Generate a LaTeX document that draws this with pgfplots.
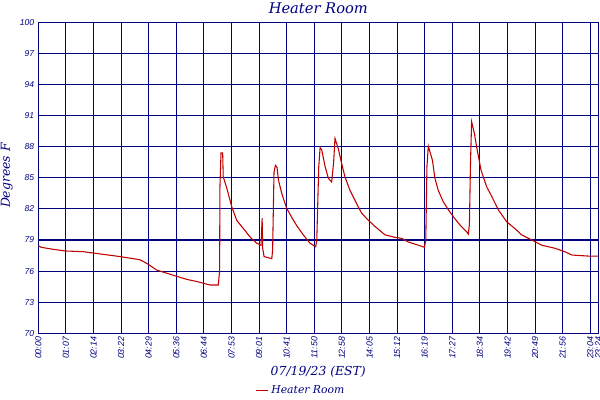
\documentclass[border=0pt]{standalone}
\usepackage{pgfplots}
\pgfplotsset{compat=1.18}
\usepackage{fontspec}
\setmainfont{DejaVu Serif}
\newfontfamily\tickfont{Liberation Sans}

\definecolor{gridnavy}{RGB}{0,0,128}
\definecolor{heatred}{RGB}{192,0,0}

\begin{document}
\begin{tikzpicture}
  \useasboundingbox (-28.725pt,-50.025pt) rectangle (421.275pt,249.975pt);
  \begin{axis}[
    scale only axis,
    width=420pt,
    height=233.25pt,
    xmin=0, xmax=20.29,
    ymin=70, ymax=100,
    xtick={0,1,2,3,4,5,6,7,8,9,10,11,12,13,14,15,16,17,18,19,20,20.29},
    xticklabels={{00:00},{01:07},{02:14},{03:22},{04:29},{05:36},{06:44},{07:53},{09:01},{10:41},{11:50},{12:58},{14:05},{15:12},{16:19},{17:27},{18:34},{19:42},{20:49},{21:56},{23:04},{23:24}},
    ytick={70,73,76,79,82,85,88,91,94,97,100},
    yticklabels={70,73,76,79,82,85,88,91,94,97,100},
    grid=major,
    major grid style={gridnavy, line width=0.85pt},
    axis line style={gridnavy, line width=0.85pt},
    major tick length=0pt,
    x tick label style={font=\tickfont\itshape\fontsize{6.6}{7.5}\selectfont, text=gridnavy, rotate=90, anchor=east, inner sep=2.5pt},
    y tick label style={font=\tickfont\itshape\fontsize{6.4}{7.5}\selectfont, text=gridnavy, anchor=east, inner sep=3pt},
    title={Heater Room},
    title style={font=\itshape\fontsize{11}{13}\selectfont, text=gridnavy, at={(0.5,1)}, anchor=base, yshift=0.75pt},
    xlabel={07/19/23 (EST)},
    xlabel style={font=\itshape\fontsize{9.3}{11}\selectfont, text=gridnavy, at={(axis description cs:0.5,0)}, anchor=base, yshift=-31.8pt},
    ylabel={Degrees F},
    ylabel style={font=\itshape\fontsize{9.3}{11}\selectfont, text=gridnavy, at={(axis description cs:-0.0506,0.507)}, anchor=base, rotate=0},
    legend style={draw=none, fill=none, inner sep=0pt, outer sep=0pt,
      at={(axis description cs:0.387,-0.184)}, anchor=west,
      font=\itshape\fontsize{8.1}{10}\selectfont, text=gridnavy},
    legend image code/.code={\draw[#1] (0pt,0pt) -- (9.5pt,0pt);},
  ]
    \addplot[heatred, line width=0.8pt] coordinates {
      (0.00,78.45) (0.10,78.3) (0.54,78.1) (1.00,77.94) (1.63,77.87) (2.12,77.7)
      (2.96,77.4) (3.44,77.2) (3.68,77.1) (3.93,76.75) (4.29,76.1) (4.89,75.6)
      (5.38,75.2) (5.74,75.0) (6.22,74.66) (6.52,74.66) (6.57,76.0) (6.58,84.0)
      (6.62,87.4) (6.68,87.4) (6.70,85.1) (6.83,84.0) (7.01,82.2) (7.19,80.9)
      (7.43,80.1) (7.67,79.3) (7.91,78.7) (8.07,78.5) (8.11,81.1) (8.13,78.2)
      (8.18,77.4) (8.46,77.2) (8.49,78.0) (8.54,85.5) (8.59,86.2) (8.65,86.0)
      (8.70,84.8) (8.82,83.5) (9.00,82.05) (9.18,81.2) (9.36,80.4) (9.60,79.5)
      (9.84,78.7) (10.05,78.35) (10.09,79.0) (10.16,86.0) (10.21,87.9) (10.27,87.7)
      (10.39,86.1) (10.51,84.95) (10.63,84.6) (10.70,86.5) (10.75,88.8) (10.87,87.8)
      (10.99,86.4) (11.11,85.1) (11.29,83.8) (11.47,82.85) (11.59,82.2) (11.72,81.57)
      (11.96,80.9) (12.20,80.3) (12.56,79.5) (12.92,79.26) (13.17,79.16) (13.41,78.8)
      (13.77,78.5) (13.99,78.3) (14.04,79.0) (14.08,86.0) (14.13,88.06) (14.28,86.7)
      (14.37,84.95) (14.49,83.8) (14.67,82.7) (14.86,81.9) (15.04,81.24) (15.28,80.44)
      (15.52,79.8) (15.58,79.57) (15.62,80.5) (15.66,86.5) (15.70,90.4) (15.80,89.3)
      (15.88,88.0) (16.04,85.75) (16.16,84.8) (16.25,84.1) (16.43,83.2) (16.67,81.9)
      (16.97,80.76) (17.27,80.1) (17.51,79.5) (17.88,79.0) (18.24,78.5) (18.72,78.2)
      (19.08,77.87) (19.33,77.55) (19.93,77.45) (20.29,77.45)
    };
    \addlegendentry{Heater Room}
  \end{axis}
\end{tikzpicture}
\end{document}
